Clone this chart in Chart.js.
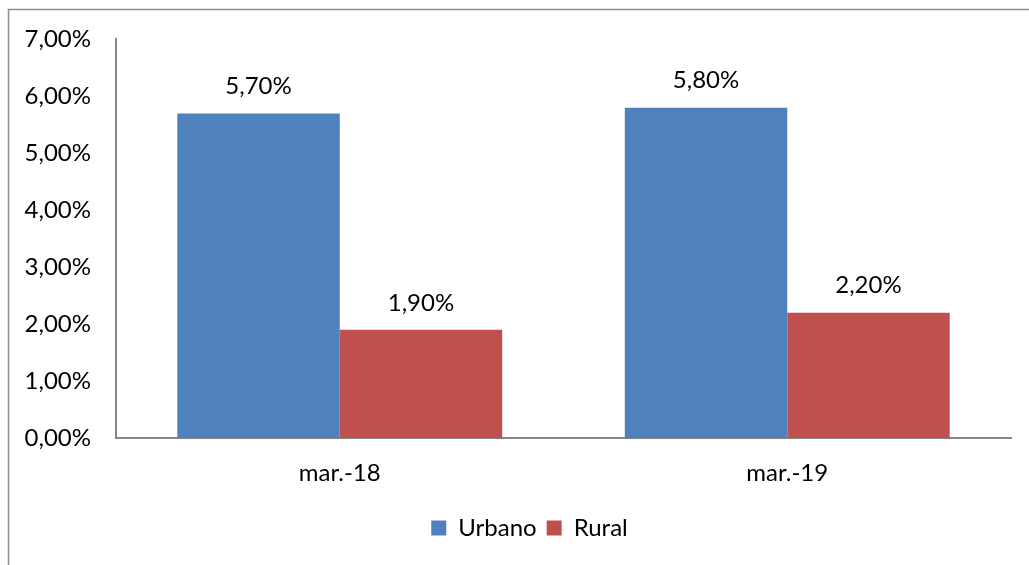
<!DOCTYPE html>
<html>
<head>
<meta charset="utf-8">
<script src="https://cdn.jsdelivr.net/npm/chart.js@4"></script>
<style>
  html, body { margin: 0; padding: 0; background: #fff; }
  #wrap { width: 1029px; height: 565px; position: relative; }
</style>
</head>
<body>
<div id="wrap"><canvas id="chart" width="1029" height="565"></canvas></div>
<script>
const categories = ['mar.-18', 'mar.-19'];
const urbano = [5.7, 5.8];
const rural = [1.9, 2.2];
const seriesNames = ['Urbano', 'Rural'];

const fmt = v => v.toFixed(2).replace('.', ',') + '%';
const FONT = 'Lato, "Open Sans", sans-serif';
const FS = 24;

// outer frame, value labels, legend nudged to the right
const extras = {
  id: 'extras',
  afterInit(chart) {
    const legend = chart.legend;
    const orig = legend.draw;
    legend.draw = function () {
      chart.ctx.save();
      chart.ctx.translate(24, 0);
      orig.apply(this, arguments);
      chart.ctx.restore();
    };
  },
  beforeDraw(chart) {
    const ctx = chart.ctx;
    ctx.save();
    ctx.strokeStyle = '#8c8c8c';
    ctx.lineWidth = 1.5;
    ctx.beginPath();
    ctx.moveTo(8.5, 570);
    ctx.lineTo(8.5, 9.5);
    ctx.lineTo(1040, 9.5);
    ctx.stroke();
    ctx.restore();
  },
  afterDatasetsDraw(chart) {
    const ctx = chart.ctx;
    ctx.save();
    ctx.font = FS + 'px ' + FONT;
    ctx.fillStyle = '#000';
    ctx.textAlign = 'center';
    ctx.textBaseline = 'middle';
    chart.data.datasets.forEach((ds, i) => {
      chart.getDatasetMeta(i).data.forEach((bar, j) => {
        ctx.fillText(fmt(ds.data[j]), bar.x, bar.y - 27);
      });
    });
    ctx.restore();
  }
};

new Chart(document.getElementById('chart'), {
  type: 'bar',
  data: {
    labels: categories,
    datasets: [
      { label: seriesNames[0], data: urbano, backgroundColor: '#4f81bd' },
      { label: seriesNames[1], data: rural, backgroundColor: '#c0504d' }
    ]
  },
  options: {
    responsive: false,
    animation: false,
    layout: { padding: { left: 0, right: 18, top: 39, bottom: 15 } },
    datasets: { bar: { categoryPercentage: 0.726, barPercentage: 1 } },
    plugins: {
      legend: {
        position: 'bottom',
        labels: {
          font: { family: FONT, size: FS },
          color: '#000',
          boxWidth: 15,
          boxHeight: 15,
          padding: 10
        }
      },
      tooltip: { enabled: false }
    },
    scales: {
      x: {
        grid: { display: false, drawTicks: false },
        border: { color: '#868686', width: 2 },
        ticks: { font: { family: FONT, size: FS }, color: '#000', padding: 21 },
        afterFit(s) { s.height = 68; }
      },
      y: {
        min: 0,
        max: 7,
        grid: { display: false, drawTicks: false },
        border: { color: '#868686', width: 2 },
        ticks: {
          stepSize: 1,
          font: { family: FONT, size: FS },
          color: '#000',
          padding: 25,
          callback: v => fmt(v)
        },
        afterFit(s) { s.width = 116; }
      }
    }
  },
  plugins: [extras]
});
</script>
</body>
</html>
